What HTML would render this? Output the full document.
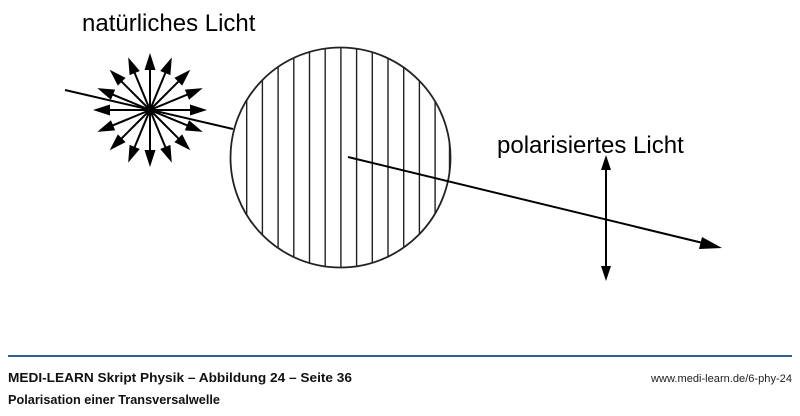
<!DOCTYPE html>
<html><head><meta charset="utf-8"><style>
body{margin:0;background:#fff;width:800px;height:411px;overflow:hidden;font-family:"Liberation Sans",sans-serif}
</style></head><body>
<svg width="800" height="411" viewBox="0 0 800 411" xmlns="http://www.w3.org/2000/svg">
<defs>
<clipPath id="c"><circle cx="340.5" cy="157.5" r="110"/></clipPath>
<g id="s"><line x1="150" y1="110" x2="150" y2="64" stroke="#000" stroke-width="2"/><path d="M150,53 L144.5,70 L155.5,70 Z" fill="#000"/></g>
</defs>
<text x="82" y="31" font-size="24" fill="#000">natürliches Licht</text>
<text x="497" y="153" font-size="24" fill="#000">polarisiertes Licht</text>
<line x1="65" y1="90" x2="233" y2="129" stroke="#000" stroke-width="2"/>
<use href="#s"/>
<use href="#s" transform="rotate(22.5 150 110)"/>
<use href="#s" transform="rotate(45 150 110)"/>
<use href="#s" transform="rotate(67.5 150 110)"/>
<use href="#s" transform="rotate(90 150 110)"/>
<use href="#s" transform="rotate(112.5 150 110)"/>
<use href="#s" transform="rotate(135 150 110)"/>
<use href="#s" transform="rotate(157.5 150 110)"/>
<use href="#s" transform="rotate(180 150 110)"/>
<use href="#s" transform="rotate(202.5 150 110)"/>
<use href="#s" transform="rotate(225 150 110)"/>
<use href="#s" transform="rotate(247.5 150 110)"/>
<use href="#s" transform="rotate(270 150 110)"/>
<use href="#s" transform="rotate(292.5 150 110)"/>
<use href="#s" transform="rotate(315 150 110)"/>
<use href="#s" transform="rotate(337.5 150 110)"/>
<circle cx="150" cy="110" r="3.5" fill="#000"/>
<g clip-path="url(#c)" stroke="#222" stroke-width="1.4">
<line x1="246.7" y1="40" x2="246.7" y2="280"/><line x1="262.4" y1="40" x2="262.4" y2="280"/>
<line x1="278.1" y1="40" x2="278.1" y2="280"/><line x1="293.8" y1="40" x2="293.8" y2="280"/>
<line x1="309.5" y1="40" x2="309.5" y2="280"/><line x1="325.2" y1="40" x2="325.2" y2="280"/>
<line x1="340.9" y1="40" x2="340.9" y2="280"/><line x1="356.6" y1="40" x2="356.6" y2="280"/>
<line x1="372.3" y1="40" x2="372.3" y2="280"/><line x1="388" y1="40" x2="388" y2="280"/>
<line x1="403.7" y1="40" x2="403.7" y2="280"/><line x1="419.4" y1="40" x2="419.4" y2="280"/>
<line x1="435.1" y1="40" x2="435.1" y2="280"/><line x1="449.5" y1="40" x2="449.5" y2="280"/>
</g>
<circle cx="340.5" cy="157.5" r="110" fill="none" stroke="#222" stroke-width="1.8"/>
<line x1="348" y1="157" x2="705" y2="243.5" stroke="#000" stroke-width="2"/>
<path d="M722,248 L702,237 L699,249 Z" fill="#000"/>
<line x1="606" y1="170" x2="606" y2="266" stroke="#000" stroke-width="2"/>
<path d="M606,155 L601,170 L611,170 Z" fill="#000"/>
<path d="M606,281 L601,266 L611,266 Z" fill="#000"/>
<line x1="8" y1="356" x2="792" y2="356" stroke="#2f5f93" stroke-width="2"/>
<text x="8" y="382" font-size="13" font-weight="bold" fill="#111" textLength="344" lengthAdjust="spacingAndGlyphs">MEDI-LEARN Skript Physik – Abbildung 24 – Seite 36</text>
<text x="651" y="382" font-size="11" fill="#222" textLength="141" lengthAdjust="spacingAndGlyphs">www.medi-learn.de/6-phy-24</text>
<text x="8" y="404" font-size="13" font-weight="bold" fill="#111" textLength="212" lengthAdjust="spacingAndGlyphs">Polarisation einer Transversalwelle</text>
</svg>
</body></html>
